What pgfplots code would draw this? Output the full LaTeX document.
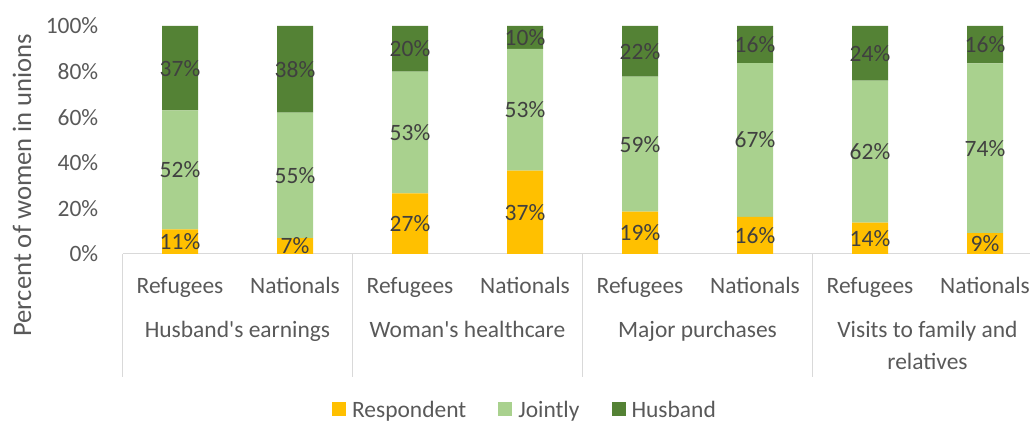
\documentclass[border=0pt]{standalone}
\usepackage{pgfplots}
\pgfplotsset{compat=1.18}
\usepackage{pgfplotstable}
\usepackage{fontspec}
\setmainfont{Carlito}
\definecolor{resp}{HTML}{FFC000}
\definecolor{joint}{HTML}{A9D18E}
\definecolor{husb}{HTML}{548235}
\definecolor{txt}{HTML}{595959}
\definecolor{lbl}{HTML}{404040}
\definecolor{gridc}{HTML}{D9D9D9}
% bar heights (as drawn) and their printed labels
\pgfplotstableread{
x R J H Rl Jl Hl
0 10.8 52.2 37.0 11 52 37
1 7.0 55.0 38.0 7 55 38
2 26.6 53.4 20.0 27 53 20
3 36.6 53.4 10.0 37 53 10
4 18.6 59.2 22.2 19 59 22
5 16.3 67.4 16.3 16 67 16
6 13.8 62.2 24.0 14 62 24
7 9.2 74.4 16.4 9 74 16
}\data
\newcommand\fs{\fontsize{17.6pt}{22.5pt}\selectfont}
\begin{document}
\begin{tikzpicture}
\useasboundingbox (0,0) rectangle (772.5pt,317.25pt);
\clip (0,0) rectangle (772.5pt,317.25pt);
\begin{axis}[
  at={(91.875pt,126.75pt)}, anchor=south west,
  scale only axis, width=690pt, height=171pt,
  xmin=-0.5, xmax=7.5, ymin=0, ymax=100, enlargelimits=false,
  ybar stacked, bar width=27pt,
  clip=false,
  axis line style={draw=none},
  tick style={draw=none},
  xtick={0,...,7},
  xticklabels={Refugees,Nationals,Refugees,Nationals,Refugees,Nationals,Refugees,Nationals},
  ytick={0,20,...,100},
  yticklabel={\pgfmathprintnumber{\tick}\%},
  /pgf/number format/assume math mode=true,
  xticklabel style={font=\fs, text=txt, anchor=base, inner sep=0pt, yshift=-29.5pt},
  yticklabel style={font=\fs, text=txt, anchor=east, inner sep=0pt, xshift=-18pt},
  ylabel={Percent of women in unions},
  ylabel style={font=\fontsize{20pt}{24pt}\selectfont, text=txt, at={(axis description cs:-0.1092,0.302)}, anchor=center},
  point meta=explicit symbolic,
  nodes near coords={\pgfplotspointmeta\%},
  every node near coord/.append style={font=\fs, text=lbl, anchor=center, inner sep=0pt},
  legend columns=-1,
  legend style={at={(0.4364,-0.686)}, anchor=center, draw=none, fill=none, font=\fs, text=txt, inner sep=0pt,
     nodes={inner sep=0pt},
     /tikz/every even column/.append style={column sep=24pt},
     /tikz/every odd column/.append style={column sep=4.5pt}},
  legend image code/.code={\fill[#1] (0pt,-4pt) rectangle (10.5pt,6.5pt);},
]
\addplot[fill=resp, draw=none] table[x=x,y=R,meta=Rl] {\data};
\addplot[fill=joint, draw=none] table[x=x,y=J,meta=Jl] {\data};
\addplot[fill=husb, draw=none] table[x=x,y=H,meta=Hl] {\data};
\legend{Respondent,Jointly,Husband}
\draw[gridc, line width=0.75pt] (axis cs:-0.5,0) -- (axis cs:7.5,0);
\pgfplotsinvokeforeach{-0.5,1.5,3.5,5.5}{\draw[gridc, line width=0.75pt] (axis cs:#1,0) -- ++(0pt,-92.25pt);}
\node[font=\fs, text=txt, anchor=base, inner sep=0pt, yshift=-63pt] at (axis cs:0.5,0) {Husband\textquotesingle s earnings};
\node[font=\fs, text=txt, anchor=base, inner sep=0pt, yshift=-63pt] at (axis cs:2.5,0) {Woman\textquotesingle s healthcare};
\node[font=\fs, text=txt, anchor=base, inner sep=0pt, yshift=-63pt] at (axis cs:4.5,0) {Major purchases};
\node[font=\fs, text=txt, anchor=base, inner sep=0pt, yshift=-63pt] at (axis cs:6.5,0) {Visits to family and};
\node[font=\fs, text=txt, anchor=base, inner sep=0pt, yshift=-87pt] at (axis cs:6.5,0) {relatives};
\end{axis}
\end{tikzpicture}
\end{document}
